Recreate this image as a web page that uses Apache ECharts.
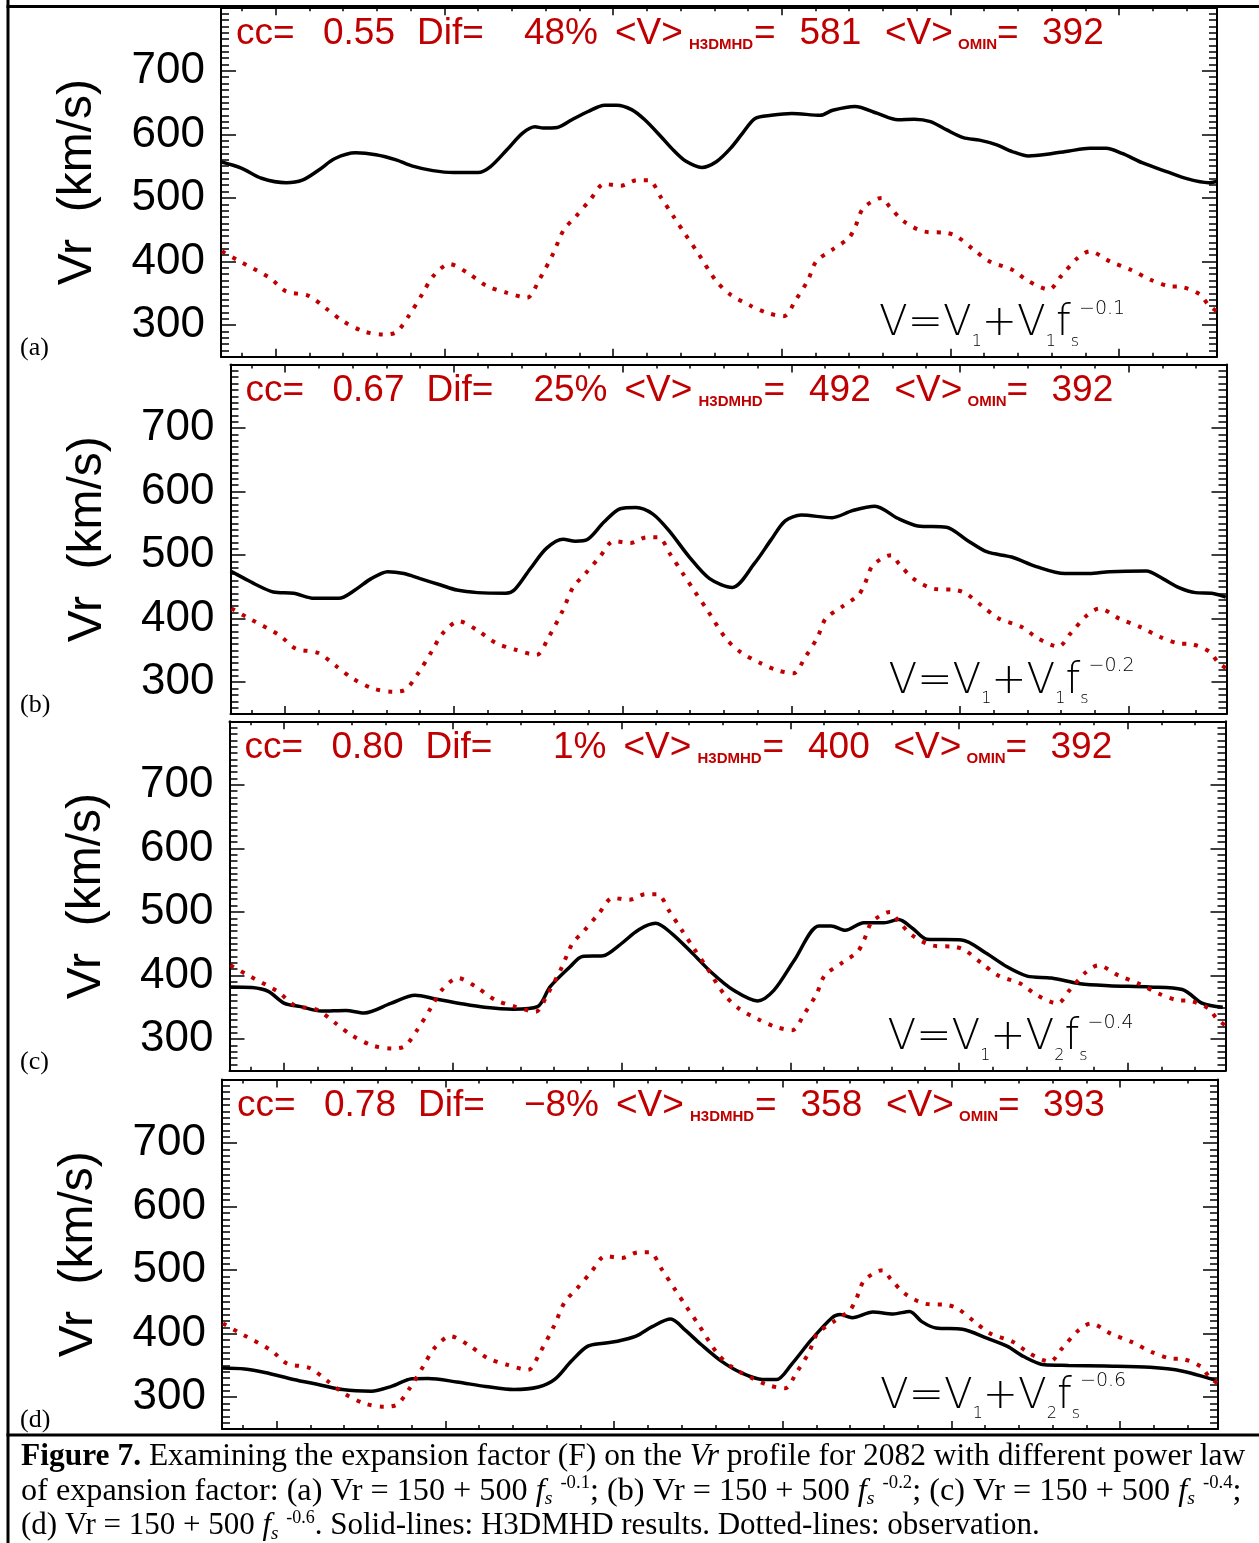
<!DOCTYPE html>
<html><head><meta charset="utf-8">
<script src="https://cdn.jsdelivr.net/npm/echarts@6/dist/echarts.min.js"></script>
<style>html,body{margin:0;padding:0;background:#fff}#c{width:1259px;height:1543px}</style>
</head><body><div id="c"></div>
<script>
// ---------------- DATA ----------------
// x in days (major tick every 5), y in km/s
const obsX = [-1.59,-1.02,-0.17,0.31,0.98,1.52,2.00,2.61,3.21,3.58,3.94,4.36,4.67,5.15,5.69,6.24,6.84,7.45,7.81,8.23,8.54,8.90,9.32,9.74,10.23,10.71,11.06,11.43,11.79,12.15,12.52,13.06,13.48,14.09,14.57,15.06,15.42,15.78,16.02,16.51,16.99,17.18,17.42,17.96,18.20,18.62,19.23,19.89,20.20,20.68,21.16,21.83,22.31,22.92,23.28,23.76,24.13,24.73,25.34,25.94,26.49,26.85,27.40,27.64,27.88];
const obsV = [416,399,374,353,346,325,306,290,285,289,314,350,377,396,382,362,351,343,371,413,450,471,497,522,519,528,528,500,471,442,413,369,348,330,319,314,340,371,400,419,437,455,484,500,486,463,447,445,439,419,400,387,369,356,377,405,416,400,387,371,361,360,348,332,322];

const modelAX = [-1.63,-1.02,-0.42,0.31,0.79,1.28,1.76,2.37,2.97,3.57,4.06,4.66,5.27,6.00,6.36,6.84,7.32,7.69,7.93,8.35,8.78,9.26,9.75,10.11,10.55,10.94,11.43,11.79,12.15,12.63,13.06,13.48,13.84,14.21,14.69,15.30,16.14,16.51,17.17,17.84,18.44,18.93,19.41,19.89,20.38,20.86,21.35,21.83,22.31,22.92,23.52,24.13,24.61,25.09,25.70,26.43,27.03,27.64,27.90];
const modelAV = [557,547,531,524,528,544,562,571,568,560,550,543,540,540,549,575,602,612,610,611,623,636,646,646,639,623,596,575,558,548,557,578,602,625,630,633,630,638,644,633,623,624,620,607,595,591,584,573,566,569,574,578,578,570,555,541,530,524,526];

const modelBX = [-1.62,-1.20,-0.84,-0.35,0.25,0.86,1.59,2.07,2.55,3.04,3.52,4.00,4.61,5.09,5.70,6.54,6.79,7.27,7.75,8.24,8.60,8.97,9.45,9.93,10.40,10.89,11.37,11.98,12.58,13.25,13.91,14.40,14.82,15.30,16.21,16.81,17.48,18.15,18.75,19.60,20.20,20.81,21.53,22.26,23.11,23.83,24.44,25.52,26.01,26.49,26.98,27.46,27.88];
const modelBV = [475,463,453,442,440,432,432,445,463,474,471,463,453,445,441,440,445,479,511,525,522,525,552,573,575,565,539,497,463,449,487,524,554,563,559,570,577,558,546,544,524,505,497,482,471,471,474,475,463,449,441,440,434];

const modelCX = [-1.62,-0.95,-0.47,0.01,0.49,1.10,1.83,2.37,3.16,3.88,4.49,5.21,5.94,6.79,7.51,7.88,8.48,8.84,9.45,9.92,10.51,11.01,11.49,12.10,12.70,13.31,14.03,14.52,15.12,15.85,16.21,16.63,17.18,17.78,18.21,18.63,19.05,20.08,20.81,21.41,22.02,22.74,23.59,24.44,25.65,26.62,27.22,27.82];
const modelCV = [382,381,375,356,351,344,345,341,356,369,363,356,350,347,351,382,414,430,431,447,472,482,466,435,403,377,360,377,424,478,478,471,483,483,488,474,457,456,435,414,399,396,387,384,382,378,356,350];

const modelDX = [-1.62,-0.95,-0.35,0.50,1.23,1.95,2.80,3.40,4.01,4.49,5.34,6.19,7.03,7.76,8.24,8.73,9.21,9.69,10.10,10.65,11.13,11.68,12.10,12.58,13.19,13.79,14.40,14.82,15.25,15.85,16.46,16.70,17.06,17.67,18.27,18.76,19.12,19.54,20.33,21.05,21.66,22.14,22.75,23.47,24.56,25.89,26.86,27.59,27.85];
const modelDV = [346,344.5,339,328,320,312,309.5,317,329,329.5,324,317,312,316,328,356.5,380,385,388,396,411,423,406,383,356.5,338,328,328,351,390.5,425,430,425,434,431,435,419,409,407,393,380,364,351,350,349,347,341,330.5,326];

const panelLabels = ['(a)','(b)','(c)','(d)'];
const ccValues = ['0.55','0.67','0.80','0.78'];
const difValues = ['48%','25%','1%','\u22128%'];
const meanModel = ['581','492','400','358'];
const meanObs = ['392','392','392','393'];
const formulaV2 = ['1','1','2','2'];
const formulaExp = ['\u22120.1','\u22120.2','\u22120.4','\u22120.6'];
const yMin = 250, yMax = 800;
const xMin = -1.62, xMax = 27.9;
const yLabelShown = [300,400,500,600,700];

// ---------------- LAYOUT ----------------
const modelX = [modelAX, modelBX, modelCX, modelDX];
const modelV = [modelAV, modelBV, modelCV, modelDV];
const boxes = [
  {left:221, top:7.3, width:996, height:349.5},
  {left:230.5, top:364.5, width:996, height:349.5},
  {left:229.5, top:721.3, width:996, height:349.5},
  {left:222, top:1079.5, width:996, height:349.5}
];
const RED = '#c00000';
const SANS = '"Liberation Sans", Arial, Helvetica, sans-serif';
const THIN = '"DejaVu Sans", "Liberation Sans", sans-serif';
const SERIF = '"Liberation Serif", "Times New Roman", serif';

const grid = [], xAxis = [], yAxis = [], series = [], graphic = [];
const axisLine = {show:true, onZero:false, lineStyle:{color:'#000', width:2}};
boxes.forEach((b, i) => {
  grid.push({left:b.left, top:b.top, width:b.width, height:b.height, containLabel:false, outerBoundsMode:'none'});
  ['bottom','top'].forEach(pos => {
    xAxis.push({gridIndex:i, type:'value', position:pos, min:xMin, max:xMax, splitNumber:6,
      axisLine, axisTick:{show:true, inside:true, length:8, lineStyle:{color:'#000', width:1.5}},
      minorTick:{show:true, splitNumber:5, length:4, lineStyle:{color:'#000', width:1.5}},
      axisLabel:{show:false}, splitLine:{show:false}, minorSplitLine:{show:false}});
  });
  ['left','right'].forEach(pos => {
    yAxis.push({gridIndex:i, type:'value', position:pos, min:yMin, max:yMax, splitNumber:5,
      axisLine, axisTick:{show:true, inside:true, length:15, lineStyle:{color:'#000', width:1.5}},
      minorTick:{show:true, splitNumber:10, length:8, lineStyle:{color:'#000', width:1.5}},
      splitLine:{show:false}, minorSplitLine:{show:false},
      axisLabel:{show: pos==='left', color:'#000', fontSize:44, fontFamily:SANS, margin:16,
        formatter: v => yLabelShown.indexOf(v) >= 0 ? String(v) : ''},
      name: pos==='left' ? 'Vr  (km/s)' : '', nameLocation:'middle', nameRotate:90, nameGap:119,
      nameTextStyle:{color:'#000', fontSize:48, fontFamily:SANS}});
  });
  series.push({type:'line', xAxisIndex:2*i, yAxisIndex:2*i, showSymbol:false, smooth:0.3,
    data: modelX[i].map((x, k) => [x, modelV[i][k]]),
    lineStyle:{color:'#000', width:3.5}, z:3, silent:true});
  series.push({type:'line', xAxisIndex:2*i, yAxisIndex:2*i, showSymbol:false, smooth:0.3,
    data: obsX.map((x, k) => [x, obsV[k]]),
    lineStyle:{color:RED, width:4, type:[4,8]}, z:4, silent:true});

  // title pieces
  const ty = b.top + 26, sy = b.top + 37.7;
  const pieces = [
    ['cc=', 15, 'left', false], [ccValues[i], 102, 'left', false], ['Dif=', 196, 'left', false],
    [difValues[i], 377, 'right', false], ['<V>', 394, 'left', false], ['H3DMHD', 468, 'left', true],
    ['=', 533, 'left', false], [meanModel[i], 578.5, 'left', false], ['<V>', 664, 'left', false],
    ['OMIN', 737, 'left', true], ['=', 776, 'left', false], [meanObs[i], 821, 'left', false]
  ];
  pieces.forEach(p => {
    graphic.push({type:'text', x: b.left + p[1], y: p[3] ? sy : ty, silent:true,
      style:{text:p[0], fill:RED, align:p[2], verticalAlign:'middle',
        font: p[3] ? 'bold 15px ' + SANS : '37px ' + SANS}});
  });
  // formula
  graphic.push({type:'text', x: b.left + 658, y: b.top + b.height - 57.4, silent:true,
    style:{text:'V=V{s|1}+V{s|' + formulaV2[i] + '}f{s|s}{p|' + formulaExp[i] + '}',
      fill:'#000', verticalAlign:'top', align:'left', font:'200 42px ' + THIN, lineHeight:50,
      rich:{s:{font:'200 16px ' + THIN, lineHeight:21, verticalAlign:'bottom', fill:'#000'},
            p:{font:'200 19px ' + THIN, lineHeight:26, verticalAlign:'top', fill:'#000'}}}});
  // panel label
  graphic.push({type:'text', x: 20, y: b.top + b.height - 9, silent:true,
    style:{text:panelLabels[i], fill:'#000', font:'26px ' + SERIF, verticalAlign:'middle', align:'left'}});
});

// frame lines
graphic.push({type:'line', shape:{x1:8, y1:0, x2:8, y2:1543}, style:{stroke:'#000', lineWidth:3}, silent:true});
graphic.push({type:'line', shape:{x1:6.5, y1:6.5, x2:1259, y2:6.5}, style:{stroke:'#000', lineWidth:3}, silent:true});
graphic.push({type:'line', shape:{x1:6.5, y1:1435, x2:1259, y2:1435}, style:{stroke:'#000', lineWidth:3}, silent:true});

// caption
const CF = 31;
const capRich = {
  b:{font:'bold ' + CF + 'px ' + SERIF, fill:'#000'},
  i:{font:'italic ' + CF + 'px ' + SERIF, fill:'#000'},
  is:{font:'italic 19px ' + SERIF, fill:'#000', verticalAlign:'bottom', lineHeight:26},
  p:{font:'18px ' + SERIF, fill:'#000', verticalAlign:'top', lineHeight:22}
};
const capLines = [
  '{b|Figure 7.} Examining the expansion factor (F) on the {i|Vr} profile for 2082 with different power law',
  'of expansion factor: (a) Vr = 150 + 500 {i|f}{is|s} {p|-0.1}; (b) Vr = 150 + 500 {i|f}{is|s} {p|-0.2}; (c) Vr = 150 + 500 {i|f}{is|s} {p|-0.4};',
  '(d) Vr = 150 + 500 {i|f}{is|s} {p|-0.6}. Solid-lines: H3DMHD results. Dotted-lines: observation.'
];
const capStretch = [1.015, 1.039, 1.0];
capLines.forEach((t, k) => {
  graphic.push({type:'text', x:21, y:1440 + k * 34.5, scaleX:capStretch[k], silent:true,
    style:{text:t, fill:'#000', font: CF + 'px ' + SERIF, lineHeight:34, verticalAlign:'top', align:'left', rich:capRich}});
});

const chart = echarts.init(document.getElementById('c'), null, {renderer:'canvas'});
chart.setOption({animation:false, backgroundColor:'#fff', grid, xAxis, yAxis, series, graphic});
</script></body></html>
